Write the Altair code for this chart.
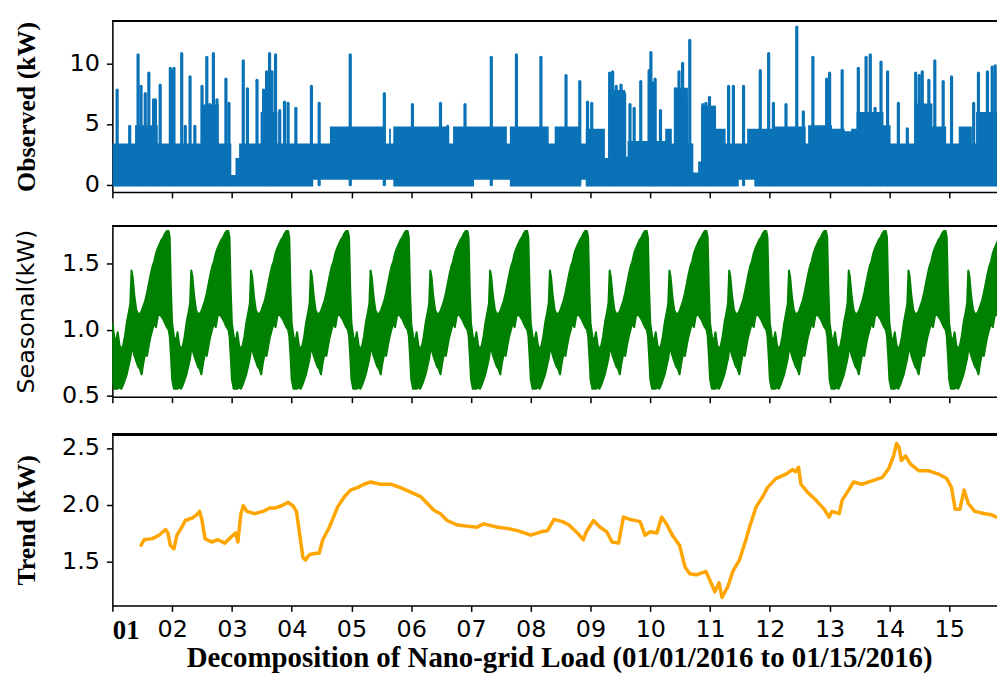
import altair as alt
import pandas as pd

# ---------------- Observed (kW): dense band (step levels) + spikes ----------------
obs_band_day = [1.00, 1.38, 1.76, 1.96, 2.03, 2.48, 2.78, 2.99, 3.06, 3.12, 3.48, 3.76,
                4.36, 4.64, 5.57, 5.63, 5.66, 5.70, 6.60, 6.70, 7.05, 7.60, 7.65, 8.30,
                8.40, 8.84, 8.92, 9.24, 9.30, 9.58, 9.62, 9.96, 10.10, 10.25, 10.36, 10.40,
                10.63, 10.72, 10.80, 10.85, 11.10, 11.26, 11.48, 11.62, 11.74, 12.05, 12.60,
                12.64, 13.04, 13.25, 13.36, 13.45, 13.90, 14.02, 14.42, 14.72, 14.95, 15.16,
                15.38, 15.45, 15.95]
obs_band_top = [3.4, 4.9, 3.4, 9.5, 3.4, 6.6, 3.4, 0.8, 2.2, 3.4, 6.0, 3.4,
                3.4, 4.8, 3.4, 4.6, 3.4, 4.8, 3.4, 4.8, 4.8, 3.4, 4.8, 3.4,
                4.8, 3.4, 4.6, 2.2, 7.8, 2.3, 3.6, 8.5, 3.6, 4.6, 3.4, 8.0,
                3.4, 1.0, 1.9, 6.5, 4.6, 3.4, 3.4, 4.6, 4.6, 4.8, 3.4,
                4.9, 4.6, 4.4, 4.6, 6.0, 4.9, 3.4, 6.7, 4.8, 3.4, 4.8,
                3.4, 6.0, 6.0]
obs_band_low = [-0.15, -0.15, -0.15, -0.15, -0.15, -0.15, -0.15, -0.15, -0.15, -0.15, -0.15, -0.15,
                0.4, 0.4, 0.4, 0.4, 0.4, -0.15, -0.15, -0.15, 0.4, 0.4, -0.15, -0.15,
                -0.15, 0.4, -0.15, -0.15, -0.15, -0.15, -0.15, -0.15, -0.15, -0.15, -0.15, -0.15,
                -0.15, -0.15, -0.15, -0.15, -0.15, -0.15, 0.4, 0.4, -0.15, -0.15, -0.15,
                -0.15, -0.15, -0.15, -0.15, -0.15, -0.15, -0.15, -0.15, -0.15, -0.15, -0.15,
                -0.15, -0.15, -0.15]

spike_day = [1.08, 1.29, 1.43, 1.48, 1.55, 1.61, 1.69, 1.72, 1.80, 1.97, 2.03, 2.16, 2.22,
             2.30, 2.38, 2.50, 2.58, 2.63, 2.69, 2.75, 2.90, 2.95, 3.19, 3.26, 3.42, 3.53,
             3.58, 3.63, 3.67, 3.73, 3.80, 3.88, 3.94, 4.07, 4.33, 4.46, 4.98, 5.55, 6.02,
             6.49, 6.61, 6.90, 7.34, 7.76, 8.17, 8.59, 8.82, 8.95, 9.02, 9.32, 9.37, 9.43,
             9.51, 9.57, 9.66, 9.73, 9.84, 9.98, 10.01, 10.08, 10.17, 10.42, 10.48, 10.54,
             10.60, 10.66, 10.88, 10.93, 10.99, 11.06, 11.31, 11.39, 11.56, 11.84, 11.98,
             12.06, 12.27, 12.45, 12.56, 12.72, 12.95, 13.00, 13.21, 13.48, 13.61, 13.68,
             13.76, 13.86, 13.97, 14.15, 14.30, 14.44, 14.50, 14.55, 14.66, 14.76, 14.90,
             15.04, 15.41, 15.49, 15.64, 15.72, 15.77]
spike_peak = [7.8, 4.8, 10.7, 8.1, 7.5, 9.2, 7.0, 7.0, 8.2, 9.6, 9.6, 10.8, 4.8,
              8.9, 4.8, 8.1, 10.5, 6.6, 10.8, 7.0, 8.7, 6.7, 10.2, 7.9, 8.6, 7.8,
              9.3, 10.8, 9.3, 10.7, 6.1, 6.8, 6.7, 6.3, 8.1, 6.7, 10.7, 7.5, 6.6,
              6.7, 4.8, 6.6, 10.5, 10.7, 10.5, 9.0, 8.5, 6.8, 6.7, 9.2, 9.3, 8.1,
              8.2, 7.5, 6.6, 6.3, 8.5, 9.4, 10.9, 8.7, 6.1, 7.9, 9.3, 10.0,
              6.7, 11.9, 6.6, 6.7, 7.2, 6.4, 8.1, 8.1, 8.1, 9.4, 10.8,
              6.7, 6.6, 13.0, 6.0, 10.5, 8.7, 9.2, 9.4, 9.6, 10.5, 10.7,
              6.3, 10.1, 9.3, 6.7, 4.6, 9.2, 9.0, 9.3, 8.6, 10.2, 8.5,
              8.9, 6.7, 9.2, 9.3, 9.7, 9.8]

# ---------------- Seasonal (kW): one daily profile (fraction of day), upper / lower envelope ----------------
seas_phase = [0.00, 0.03, 0.06, 0.09, 0.12, 0.15, 0.18, 0.21, 0.24, 0.27, 0.30, 0.32,
              0.34, 0.37, 0.40, 0.43, 0.46, 0.49, 0.52, 0.55, 0.58, 0.61, 0.64, 0.67,
              0.70, 0.73, 0.76, 0.79, 0.82, 0.85, 0.88, 0.91, 0.94, 0.96, 0.98]
seas_upper = [1.05, 0.95, 0.90, 0.98, 0.88, 0.85, 0.88, 0.95, 1.05, 1.12, 1.20, 1.45,
              1.40, 1.25, 1.15, 1.12, 1.12, 1.14, 1.18, 1.22, 1.28, 1.35, 1.42, 1.48,
              1.52, 1.58, 1.62, 1.65, 1.68, 1.70, 1.73, 1.75, 1.75, 1.70, 1.30]
seas_lower = [0.62, 0.55, 0.55, 0.55, 0.56, 0.55, 0.58, 0.62, 0.66, 0.72, 0.78, 0.85,
              0.85, 0.80, 0.76, 0.72, 0.70, 0.66, 0.75, 0.82, 0.80, 0.88, 0.95, 1.00,
              1.05, 1.02, 1.10, 1.12, 1.10, 1.08, 1.05, 1.02, 1.00, 0.95, 0.80]
seas_days = list(range(1, 17))

# ---------------- Trend (kW) ----------------
trend_day = [1.47, 1.53, 1.67, 1.78, 1.89, 1.93, 1.97, 2.03, 2.08, 2.16, 2.22, 2.33, 2.41,
             2.46, 2.50, 2.55, 2.66, 2.77, 2.88, 3.00, 3.06, 3.10, 3.15, 3.19, 3.25, 3.38,
             3.52, 3.63, 3.72, 3.83, 3.94, 4.02, 4.08, 4.13, 4.19, 4.23, 4.30, 4.41, 4.46,
             4.52, 4.63, 4.77, 4.88, 4.99, 5.10, 5.21, 5.32, 5.49, 5.66, 5.82, 5.99, 6.16,
             6.27, 6.38, 6.49, 6.60, 6.77, 6.93, 7.10, 7.21, 7.37, 7.45, 7.61, 7.78, 8.00,
             8.17, 8.28, 8.39, 8.53, 8.64, 8.78, 8.88, 8.93, 9.05, 9.16, 9.27, 9.36, 9.47,
             9.55, 9.66, 9.83, 9.91, 10.00, 10.11, 10.19, 10.27, 10.38, 10.49, 10.58, 10.66,
             10.77, 10.93, 10.99, 11.08, 11.15, 11.20, 11.30, 11.38, 11.49, 11.60, 11.66,
             11.77, 11.88, 11.96, 12.10, 12.27, 12.38, 12.43, 12.48, 12.52, 12.63, 12.77,
             12.91, 12.99, 13.04, 13.16, 13.21, 13.32, 13.40, 13.54, 13.71, 13.88, 13.99,
             14.07, 14.12, 14.16, 14.20, 14.27, 14.35, 14.49, 14.65, 14.82, 14.96, 15.04,
             15.10, 15.18, 15.25, 15.32, 15.43, 15.60, 15.71, 15.83]
trend_val = [1.63, 1.69, 1.70, 1.73, 1.78, 1.75, 1.64, 1.61, 1.73, 1.80, 1.86, 1.88, 1.91,
             1.94, 1.86, 1.70, 1.67, 1.69, 1.66, 1.72, 1.75, 1.67, 1.92, 1.99, 1.94, 1.92,
             1.94, 1.97, 1.97, 1.99, 2.02, 1.99, 1.94, 1.75, 1.53, 1.51, 1.56, 1.57, 1.57,
             1.69, 1.80, 1.98, 2.07, 2.13, 2.15, 2.18, 2.20, 2.18, 2.18, 2.15, 2.11, 2.07,
             2.01, 1.95, 1.92, 1.86, 1.82, 1.81, 1.80, 1.83, 1.81, 1.80, 1.79, 1.77, 1.73,
             1.76, 1.77, 1.87, 1.85, 1.82, 1.75, 1.69, 1.76, 1.86, 1.80, 1.76, 1.67, 1.66,
             1.89, 1.87, 1.85, 1.73, 1.76, 1.75, 1.89, 1.83, 1.72, 1.64, 1.45, 1.39,
             1.38, 1.41, 1.34, 1.23, 1.31, 1.18, 1.28, 1.41, 1.51, 1.69, 1.80,
             1.98, 2.07, 2.15, 2.23, 2.27, 2.31, 2.29, 2.33, 2.18, 2.11, 2.04,
             1.96, 1.89, 1.94, 1.92, 2.04, 2.13, 2.20, 2.18, 2.21, 2.24, 2.32,
             2.43, 2.54, 2.51, 2.39, 2.43, 2.36, 2.30, 2.30, 2.27, 2.23, 2.15,
             1.96, 1.96, 2.13, 2.01, 1.94, 1.92, 1.91, 1.88]

# ---------------- tables ----------------
X_MIN, X_MAX = 1.0, 15.95
band_df = pd.DataFrame({"day": obs_band_day, "top": obs_band_top, "low": obs_band_low})
spike_df = pd.DataFrame({"day": spike_day, "peak": spike_peak, "base": [0.0] * len(spike_day)})
seas_rows = []
for d in seas_days:
    for p, u, l in zip(seas_phase, seas_upper, seas_lower):
        t = d + p
        if t <= X_MAX + 0.05:
            seas_rows.append({"day": t, "upper": u, "lower": l})
seas_df = pd.DataFrame(seas_rows)
trend_df = pd.DataFrame({"day": trend_day, "val": trend_val})

W, H = 899, 172
BLUE, GREEN, ORANGE = "#0a72b6", "#008000", "#FFA500"

xscale = alt.Scale(domain=[X_MIN, X_MAX], nice=False, zero=False)
tick_days = list(range(1, 16))

def x_axis(show_labels):
    kw = dict(values=tick_days, grid=False, domainColor="black", domainWidth=1.5,
              tickColor="black", tickWidth=1.5, tickSize=6)
    if show_labels:
        kw.update(
            labels=True,
            labelExpr="datum.value < 10 ? '0' + datum.value : '' + datum.value",
            labelFont={"condition": {"test": "datum.value == 1", "value": "Liberation Serif"},
                       "value": "DejaVu Sans"},
            labelFontWeight={"condition": {"test": "datum.value == 1", "value": "bold"},
                             "value": "normal"},
            labelFontSize={"condition": {"test": "datum.value == 1", "value": 27},
                           "value": 24},
            labelColor="black", labelPadding=6,
            title="Decomposition of Nano-grid Load (01/01/2016 to 01/15/2016)",
            titleFont="Liberation Serif", titleFontWeight="bold", titleFontSize=29,
            titleColor="black", titlePadding=0,
        )
    else:
        kw.update(labels=False, title=None)
    return alt.Axis(**kw)

def y_axis(values, title, fmt, tfont, tweight, tsize):
    return alt.Axis(values=values, format=fmt, grid=False, title=title,
                    domainColor="black", domainWidth=1.5, tickColor="black", tickWidth=1.5,
                    tickSize=6, labelFont="DejaVu Sans", labelFontSize=24, labelColor="black",
                    labelPadding=7, titleFont=tfont, titleFontWeight=tweight,
                    titleFontSize=tsize, titleColor="black", titleX=-86,
                    titleBaseline="middle")

def top_border():
    return alt.Chart(trend_df).mark_rule(color="black", strokeWidth=1.5).encode(
        x=alt.value(0), x2=alt.value(W), y=alt.value(0))

# Observed
obs_y = alt.Scale(domain=[-0.6, 13.5], nice=False, zero=False)
obs_band = alt.Chart(band_df).mark_area(interpolate="step-after", color=BLUE, clip=True).encode(
    x=alt.X("day:Q", scale=xscale, axis=x_axis(False)),
    y=alt.Y("top:Q", scale=obs_y,
            axis=y_axis([0, 5, 10], "Observed (kW)", "d", "Liberation Serif", "bold", 26)),
    y2="low:Q")
obs_spk = alt.Chart(spike_df).mark_rule(color=BLUE, strokeWidth=3.2, strokeCap="round", clip=True).encode(
    x=alt.X("day:Q", scale=xscale), y=alt.Y("base:Q", scale=obs_y), y2="peak:Q")
p1 = alt.layer(obs_band, obs_spk, top_border()).properties(width=W, height=H)

# Seasonal
seas_y = alt.Scale(domain=[0.49, 1.79], nice=False, zero=False)
seas_area = alt.Chart(seas_df).mark_area(color=GREEN, stroke=GREEN, strokeWidth=2,
                                         strokeJoin="round", clip=True).encode(
    x=alt.X("day:Q", scale=xscale, axis=x_axis(False)),
    y=alt.Y("upper:Q", scale=seas_y,
            axis=y_axis([0.5, 1.0, 1.5], "Seasonal(kW)", ".1f", "DejaVu Sans", "normal", 24)),
    y2="lower:Q")
p2 = alt.layer(seas_area, top_border()).properties(width=W, height=H)

# Trend
trend_y = alt.Scale(domain=[1.11, 2.62], nice=False, zero=False)
trend_line = alt.Chart(trend_df).mark_line(color=ORANGE, strokeWidth=3.5, strokeJoin="round",
                                            clip=True).encode(
    x=alt.X("day:Q", scale=xscale, axis=x_axis(True)),
    y=alt.Y("val:Q", scale=trend_y,
            axis=y_axis([1.5, 2.0, 2.5], "Trend (kW)", ".1f", "Liberation Serif", "bold", 26)))
p3 = alt.layer(trend_line, top_border()).properties(width=W, height=H)

chart = alt.vconcat(p1, p2, p3, spacing=24).properties(
    padding={"left": 5, "top": 9, "right": -11, "bottom": 0}
).configure_view(stroke=None).configure(background="white")

chart.save("out.html", embed_options={"renderer": "svg", "actions": False})
